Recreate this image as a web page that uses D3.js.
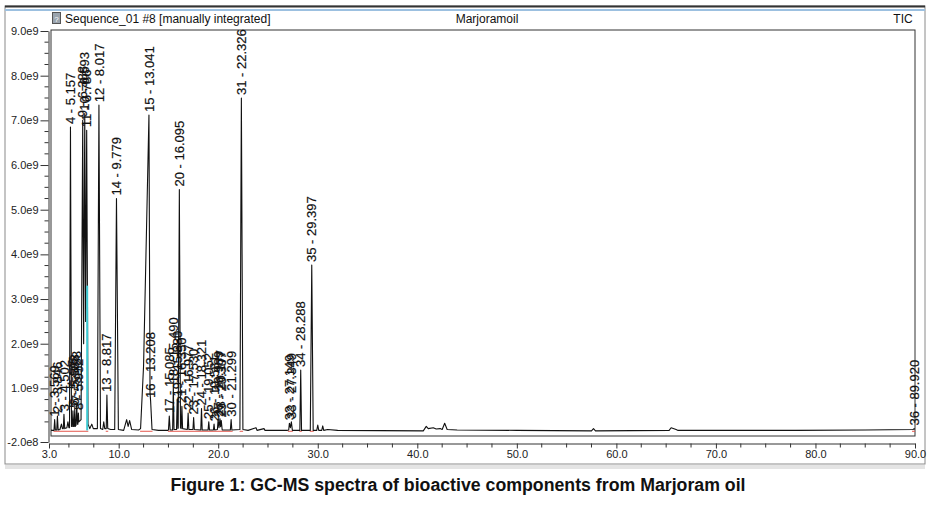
<!DOCTYPE html>
<html>
<head>
<meta charset="utf-8">
<script src="https://cdn.jsdelivr.net/npm/d3@7"></script>
<style>
  body { margin: 0; background: #fff; }
  svg text { font-family: "Liberation Sans", Arial, sans-serif; }
</style>
</head>
<body>
<div id="chart"></div>
<script>
// peaks: number, retention time (min), apex intensity (x1e9)
var peakNum = [1, 2, 3, 4, 5, 6, 7, 8, 9, 10, 11, 12, 13, 14, 15, 16, 17, 18,
    19, 20, 21, 22, 23, 24, 25, 26, 27, 28, 29, 30, 31, 32, 33, 34, 35, 36];
var peakRT = [3.569, 3.846, 4.502, 5.157, 5.405, 5.588, 5.788, 5.952, 6.388, 6.593,
    6.786, 8.017, 8.817, 9.779, 13.041, 13.208, 15.085, 15.490, 15.880, 16.095,
    16.350, 16.977, 17.530, 18.321, 19.052, 19.581, 19.989, 20.177, 20.307, 21.299,
    22.326, 27.149, 27.349, 28.288, 29.397, 89.920];
var peakHeight = [0.30, 0.38, 0.42, 6.85, 0.50, 0.55, 0.62, 0.45, 7.00, 7.15,
    6.78, 7.34, 0.85, 5.25, 7.12, 0.72, 0.38, 1.05, 0.75, 5.45,
    0.60, 0.45, 0.35, 0.55, 0.25, 0.20, 0.30, 0.32, 0.28, 0.30,
    7.50, 0.22, 0.25, 1.41, 3.76, 0.10];

// TIC trace: [time, intensity x1e9]
var trace = [
    [3.0, 0.08], [3.3, 0.06], [3.5, 0.06], [3.569, 0.30], [3.64, 0.07], [3.78, 0.07],
    [3.846, 0.38], [3.92, 0.07], [4.1, 0.08], [4.25, 0.20], [4.35, 0.10], [4.44, 0.10],
    [4.502, 0.42], [4.58, 0.10], [4.8, 0.12], [4.9, 0.25], [5.0, 0.12], [5.06, 0.12],
    [5.157, 6.85], [5.26, 0.15], [5.34, 0.15], [5.405, 0.50], [5.47, 0.15], [5.53, 0.15],
    [5.588, 0.55], [5.65, 0.15], [5.72, 0.18], [5.788, 0.62], [5.86, 0.20], [5.9, 0.20],
    [5.952, 0.45], [6.0, 0.25], [6.22, 0.30], [6.388, 7.00], [6.48, 2.00], [6.593, 7.15],
    [6.68, 2.50], [6.786, 6.78], [6.92, 0.20], [7.1, 0.10], [7.3, 0.20], [7.45, 0.10],
    [7.86, 0.10], [8.017, 7.34], [8.17, 0.10], [8.4, 0.08], [8.5, 0.25], [8.6, 0.10],
    [8.75, 0.10], [8.817, 0.85], [8.9, 0.10], [9.2, 0.08], [9.6, 0.08], [9.779, 5.25],
    [9.97, 0.08], [10.5, 0.06], [10.8, 0.30], [10.95, 0.15], [11.1, 0.28], [11.3, 0.08],
    [12.0, 0.07], [12.2, 0.10], [12.5, 1.50], [12.8, 4.60], [13.041, 7.12], [13.15, 0.90],
    [13.208, 0.72], [13.35, 0.08], [14.0, 0.06], [14.9, 0.06], [15.0, 0.07], [15.085, 0.38],
    [15.17, 0.07], [15.42, 0.07], [15.49, 1.05], [15.56, 0.08], [15.81, 0.08], [15.88, 0.75],
    [15.95, 0.10], [15.98, 0.12], [16.095, 5.45], [16.21, 0.12], [16.28, 0.10], [16.35, 0.60],
    [16.42, 0.10], [16.9, 0.08], [16.977, 0.45], [17.05, 0.08], [17.46, 0.08], [17.53, 0.35],
    [17.6, 0.08], [18.25, 0.07], [18.321, 0.55], [18.39, 0.07], [18.98, 0.07], [19.052, 0.25],
    [19.12, 0.07], [19.52, 0.07], [19.581, 0.20], [19.64, 0.07], [19.92, 0.08], [19.989, 0.30],
    [20.08, 0.12], [20.177, 0.32], [20.24, 0.14], [20.307, 0.28], [20.4, 0.07], [21.22, 0.07],
    [21.299, 0.30], [21.37, 0.07], [22.18, 0.08], [22.326, 7.50], [22.48, 0.08], [23.0, 0.06],
    [23.8, 0.12], [23.9, 0.06], [24.6, 0.10], [24.7, 0.06], [26.9, 0.06], [27.08, 0.07],
    [27.149, 0.22], [27.25, 0.12], [27.349, 0.25], [27.45, 0.06], [28.2, 0.06], [28.288, 1.41],
    [28.37, 0.06], [29.25, 0.06], [29.397, 3.76], [29.54, 0.06], [29.9, 0.06], [30.0, 0.18],
    [30.1, 0.06], [30.4, 0.06], [30.5, 0.16], [30.6, 0.06], [31.0, 0.08], [32.0, 0.06],
    [40.6, 0.05], [40.9, 0.15], [41.1, 0.10], [41.6, 0.12], [41.9, 0.09], [42.3, 0.10],
    [42.5, 0.08], [42.75, 0.22], [43.0, 0.08], [44.0, 0.07], [50.0, 0.06], [57.5, 0.05],
    [57.7, 0.10], [57.9, 0.05], [65.3, 0.06], [65.5, 0.12], [66.0, 0.08], [66.2, 0.06],
    [78.0, 0.06], [85.0, 0.07], [89.8, 0.08], [89.92, 0.10], [90.0, 0.08]
];

// integration baselines (red) [from, to]
var baseSegments = [[3.45, 6.95], [8.7, 8.95], [12.15, 13.4], [14.95, 21.45],
    [22.15, 22.5], [27.0, 27.5], [28.15, 28.4], [29.2, 29.6], [89.7, 90.0]];

var xTicks = [3, 10, 20, 30, 40, 50, 60, 70, 80, 90];
var xTickLabels = ["3.0", "10.0", "20.0", "30.0", "40.0", "50.0", "60.0", "70.0", "80.0", "90.0"];
var yTicks = [9, 8, 7, 6, 5, 4, 3, 2, 1, -0.2];
var yTickLabels = ["9.0e9", "8.0e9", "7.0e9", "6.0e9", "5.0e9", "4.0e9", "3.0e9", "2.0e9", "1.0e9", "-2.0e8"];

var W = 933, H = 507;
var plot = { left: 51, top: 30, right: 915, bottom: 436 };

var svg = d3.select("#chart").append("svg")
    .attr("width", W)
    .attr("height", H);

// window frame
svg.append("rect")
    .attr("x", 5).attr("y", 6).attr("width", 920).attr("height", 458)
    .attr("fill", "#fff").attr("stroke", "#8a8a8a");
svg.append("line")
    .attr("x1", 5).attr("x2", 925).attr("y1", 6.5).attr("y2", 6.5)
    .attr("stroke", "#333").attr("stroke-width", 2);
svg.append("line")
    .attr("x1", 5).attr("x2", 925).attr("y1", 10).attr("y2", 10)
    .attr("stroke", "#9cc0e0").attr("stroke-width", 2);
svg.append("rect")
    .attr("x", 5).attr("y", 465).attr("width", 920).attr("height", 4)
    .attr("fill", "#e4e4e4");

// header
svg.append("rect")
    .attr("x", 52.5).attr("y", 12.5).attr("width", 8).attr("height", 11)
    .attr("fill", "#9aa4ae").attr("stroke", "#555");
svg.append("text")
    .attr("x", 56.5).attr("y", 22).attr("text-anchor", "middle")
    .attr("font-size", 8).attr("fill", "#fff").text("?");
svg.append("text")
    .attr("x", 65).attr("y", 23).attr("font-size", 12).attr("fill", "#111")
    .text("Sequence_01 #8 [manually integrated]");
svg.append("text")
    .attr("x", 487).attr("y", 23).attr("text-anchor", "middle")
    .attr("font-size", 12).attr("fill", "#111").text("Marjoramoil");
svg.append("text")
    .attr("x", 903).attr("y", 23).attr("text-anchor", "middle")
    .attr("font-size", 12).attr("fill", "#111").text("TIC");

var x = d3.scaleLinear().domain([3, 90]).range([49, 915]);
var y = d3.scaleLinear().domain([-0.2, 9.0]).range([442, 31]);

// plot frame
svg.append("rect")
    .attr("x", plot.left).attr("y", plot.top)
    .attr("width", plot.right - plot.left).attr("height", plot.bottom - plot.top)
    .attr("fill", "none").attr("stroke", "#333");

// axes
var yAxis = d3.axisLeft(y).tickValues(yTicks).tickSize(8).tickSizeOuter(0)
    .tickFormat(function (d, i) { return yTickLabels[i]; });
var gy = svg.append("g")
    .attr("transform", "translate(48.5,0)")
    .call(yAxis);
gy.selectAll("text").attr("font-size", 11).attr("fill", "#222").attr("x", -10);

var yMinor = d3.range(0, 9, 0.25).filter(function (d) { return d % 1 !== 0; });
gy.selectAll(".minor").data(yMinor).enter().append("line")
    .attr("class", "minor")
    .attr("x1", -4).attr("x2", 0)
    .attr("y1", function (d) { return y(d); })
    .attr("y2", function (d) { return y(d); })
    .attr("stroke", "#333");

var xAxis = d3.axisBottom(x).tickValues(xTicks).tickSize(5).tickSizeOuter(0)
    .tickFormat(function (d, i) { return xTickLabels[i]; });
var gx = svg.append("g")
    .attr("transform", "translate(0,443.5)")
    .call(xAxis);
gx.selectAll("text").attr("font-size", 11).attr("fill", "#222").attr("y", 7);

var xMinor = d3.range(5, 90, 2.5).filter(function (d) { return d % 10 !== 0; });
gx.selectAll(".minor").data(xMinor).enter().append("line")
    .attr("class", "minor")
    .attr("x1", function (d) { return x(d); })
    .attr("x2", function (d) { return x(d); })
    .attr("y1", 0).attr("y2", 4)
    .attr("stroke", "#333");
gx.selectAll("path, line").attr("stroke", "#333");
gy.selectAll("path, line").attr("stroke", "#333");

svg.append("clipPath").attr("id", "clip")
    .append("rect")
    .attr("x", plot.left).attr("y", plot.top)
    .attr("width", plot.right - plot.left).attr("height", plot.bottom - plot.top);

var chart = svg.append("g").attr("clip-path", "url(#clip)");

// red integration baselines
chart.selectAll(".base").data(baseSegments).enter().append("line")
    .attr("class", "base")
    .attr("x1", function (d) { return x(d[0]); })
    .attr("x2", function (d) { return x(d[1]); })
    .attr("y1", y(0.04)).attr("y2", y(0.04))
    .attr("stroke", "#e4574c").attr("stroke-width", 1);

var line = d3.line()
    .x(function (d) { return x(d[0]); })
    .y(function (d) { return y(d[1]); });

chart.append("path")
    .datum(trace)
    .attr("fill", "none")
    .attr("stroke", "#111")
    .attr("stroke-width", 1.1)
    .attr("stroke-linejoin", "round")
    .attr("d", line);

// selected peak highlight
var iSel = peakNum.indexOf(11);
chart.append("line")
    .attr("x1", x(peakRT[iSel]) + 0.5).attr("x2", x(peakRT[iSel]) + 0.5)
    .attr("y1", y(0.06)).attr("y2", y(3.3))
    .attr("stroke", "#3cc8d0").attr("stroke-width", 2);

// peak labels
var fmt = d3.format(".3f");
svg.append("g").selectAll("text")
    .data(peakNum)
    .enter().append("text")
    .attr("transform", function (d, i) {
        return "translate(" + x(peakRT[i]) + "," + (y(peakHeight[i]) - 3) + ") rotate(-90)";
    })
    .attr("dy", "0.35em")
    .attr("font-size", 13)
    .attr("fill", "#111")
    .attr("stroke", "#111").attr("stroke-width", 0.2)
    .text(function (d, i) { return d + " - " + fmt(peakRT[i]); });

// caption
svg.append("text")
    .attr("x", 458).attr("y", 491)
    .attr("text-anchor", "middle")
    .attr("font-size", 18).attr("font-weight", "bold").attr("fill", "#111")
    .attr("textLength", 575).attr("lengthAdjust", "spacingAndGlyphs")
    .text("Figure 1: GC-MS spectra of bioactive components from Marjoram oil");
</script>
</body>
</html>
